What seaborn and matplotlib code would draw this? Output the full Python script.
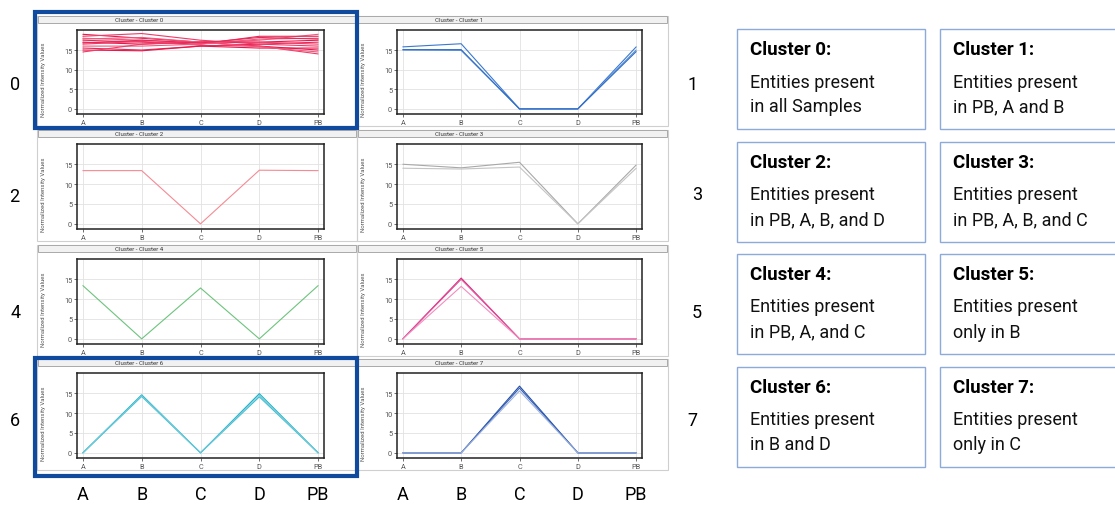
import pandas as pd
import numpy as np
import matplotlib
matplotlib.use('Agg')
import matplotlib.pyplot as plt
import matplotlib.transforms as mtransforms
from matplotlib.patches import Rectangle
import seaborn as sns

samples = ['A', 'B', 'C', 'D', 'PB']

cluster0 = [
    [19.0, 18.0, 17.0, 16.0, 15.0],
    [18.5, 19.2, 17.5, 16.5, 16.0],
    [18.0, 17.5, 16.8, 17.5, 19.0],
    [17.5, 17.0, 16.5, 18.5, 18.5],
    [17.0, 16.5, 17.0, 17.0, 17.5],
    [16.5, 17.2, 16.2, 16.0, 14.0],
    [16.0, 16.0, 16.5, 17.8, 18.0],
    [15.5, 15.0, 16.0, 16.5, 17.0],
    [15.0, 14.8, 16.0, 15.5, 15.5],
    [14.5, 16.5, 17.2, 17.0, 16.5],
    [17.8, 18.2, 17.0, 15.8, 14.5],
    [16.8, 17.5, 16.8, 18.2, 17.8],
]
cluster1 = [
    [15.8, 16.6, 0.0, 0.0, 15.8],
    [15.0, 14.9, 0.0, 0.0, 15.0],
    [15.1, 15.1, 0.0, 0.0, 14.6],
]
cluster2 = [
    [13.4, 13.4, 0.0, 13.5, 13.4],
]
cluster3 = [
    [15.0, 14.1, 15.5, 0.0, 14.8],
    [14.0, 13.8, 14.3, 0.0, 14.0],
]
cluster4 = [
    [13.4, 0.0, 12.8, 0.0, 13.4],
]
cluster5 = [
    [0.0, 15.3, 0.0, 0.0, 0.0],
    [0.0, 15.0, 0.0, 0.0, 0.0],
    [0.0, 13.2, 0.0, 0.0, 0.0],
]
cluster6 = [
    [0.0, 14.6, 0.0, 14.9, 0.0],
    [0.0, 14.2, 0.0, 14.1, 0.0],
    [0.0, 14.4, 0.0, 14.5, 0.0],
]
cluster7 = [
    [0.0, 0.0, 16.8, 0.0, 0.0],
    [0.0, 0.0, 16.3, 0.0, 0.0],
    [0.0, 0.0, 15.6, 0.0, 0.0],
]
clusters = [cluster0, cluster1, cluster2, cluster3, cluster4, cluster5, cluster6, cluster7]

box_titles = ['Cluster 0:', 'Cluster 1:', 'Cluster 2:', 'Cluster 3:',
              'Cluster 4:', 'Cluster 5:', 'Cluster 6:', 'Cluster 7:']
box_texts = ['Entities present\nin all Samples',
             'Entities present\nin PB, A and B',
             'Entities present\nin PB, A, B, and D',
             'Entities present\nin PB, A, B, and C',
             'Entities present\nin PB, A, and C',
             'Entities present\nonly in B',
             'Entities present\nin B and D',
             'Entities present\nonly in C']

# colours per cluster (dark / light shades)
palettes = [
    ['#e8174c', '#ee3c68', '#f0587c', '#e42a58'],
    ['#3a78d0', '#5a92dc', '#2f6cc4'],
    ['#f58a94'],
    ['#a8a8a8', '#c4c4c4'],
    ['#6cc47c'],
    ['#d8287e', '#e0509a', '#f28cc0'],
    ['#16aec6', '#3cbcd0', '#6dcbdb'],
    ['#234ea6', '#3a64b8', '#9db2de'],
]

W, H = 1115, 506
sns.set_theme(style='whitegrid')
narrow = ['Roboto', 'DejaVu Sans']
plt.rcParams['font.family'] = ['Roboto', 'DejaVu Sans']

fig = plt.figure(figsize=(W / 100, H / 100), dpi=100)
fig.patch.set_facecolor('white')


def fig_rect(x0, y0, x1, y1):
    return [x0 / W, 1 - y1 / H, (x1 - x0) / W, (y1 - y0) / H]


ax_x = [(77, 324), (397, 642)]
ax_y = [(31, 115), (145, 230), (260, 345), (374, 459)]
panel_x = [(37, 357), (357, 668)]

axes = []
for i, data in enumerate(clusters):
    row, col = i // 2, i % 2
    x0, x1 = ax_x[col]
    y0, y1 = ax_y[row]

    # panel frame and title strip
    px0, px1 = panel_x[col]
    fig.add_artist(Rectangle((px0 / W, 1 - (y1 + 12) / H), (px1 - px0) / W, (y1 + 12 - (y0 - 14)) / H,
                             transform=fig.transFigure, facecolor='none', edgecolor='#cfcfcf', lw=0.8))
    fig.add_artist(Rectangle(((px0 + 1) / W, 1 - (y0 - 7) / H), (px1 - px0 - 2) / W, 7 / H,
                             transform=fig.transFigure, facecolor='#f1f1f1', edgecolor='#a9a9a9', lw=0.7))
    fig.text((px0 + 78) / W, 1 - (y0 - 10.5) / H, f'Cluster - Cluster {i}', fontsize=4.4,
             color='#333333', va='center', ha='left')

    ax = fig.add_axes(fig_rect(x0, y0, x1, y1))
    rows = []
    for k, line in enumerate(data):
        for s, v in zip(samples, line):
            rows.append({'sample': s, 'value': v, 'entity': f'e{k}'})
    df = pd.DataFrame(rows)
    sns.lineplot(data=df, x='sample', y='value', hue='entity', palette=palettes[i][:len(data)],
                 estimator=None, legend=False, sort=False, linewidth=0.8, ax=ax)

    ax.set_xlim(-0.1, 4.1)
    ax.set_ylim(-1.3, 20.1)
    ax.set_yticks([0, 5, 10, 15])
    ax.set_xticks(range(len(samples)))
    ax.set_xticklabels(samples)
    ax.set_xlabel('')
    ax.set_ylabel('Normalized Intensity Values', fontsize=4.3, color='#555555')
    ax.yaxis.set_label_coords(-31 / (x1 - x0), 0.42)
    ax.tick_params(axis='both', labelsize=5.3, colors='#555555', length=2, width=0.6, pad=1.5)
    ax.tick_params(axis='both', which='both', bottom=True, left=True)
    ax.grid(True, color='#e2e2e2', linewidth=0.6)
    for sp in ax.spines.values():
        sp.set_color('#222222')
        sp.set_linewidth(1.1)
    ax.set_facecolor('white')
    axes.append(ax)

# row numbers
row_labels_left = [('0', 15, 85), ('2', 14, 197), ('4', 16, 313), ('6', 15, 421)]
row_labels_right = [('1', 693, 85), ('3', 697, 195), ('5', 697, 313), ('7', 692, 421)]
for lab, x, y in row_labels_left + row_labels_right:
    fig.text(x / W, 1 - y / H, lab, fontsize=13, family=narrow, ha='center', va='center', color='black')

# sample letters under the bottom panels
for ax in axes[-2:]:
    trans = mtransforms.blended_transform_factory(ax.transData, fig.transFigure)
    for k, s in enumerate(samples):
        ax.text(k, 1 - 495 / H, s, transform=trans, fontsize=13, family=narrow,
                ha='center', va='center', color='black', clip_on=False)

# highlight frames around cluster 0 and cluster 6
for (x0, y0, x1, y1) in [(35, 13, 357, 129), (35, 359, 357, 477)]:
    fig.add_artist(Rectangle((x0 / W, 1 - y1 / H), (x1 - x0) / W, (y1 - y0) / H,
                             transform=fig.transFigure, facecolor='none', edgecolor='#0f4a9e', lw=3.0))

# description boxes
box_x = [(737, 925), (940, 1125)]
box_y = [30, 143, 255, 368]
for i in range(8):
    row, col = i // 2, i % 2
    bx0, bx1 = box_x[col]
    by0 = box_y[row]
    by1 = by0 + 100
    fig.add_artist(Rectangle((bx0 / W, 1 - by1 / H), (bx1 - bx0) / W, (by1 - by0) / H,
                             transform=fig.transFigure, facecolor='white', edgecolor='#8eaad8', lw=1.0))
    fig.text((bx0 + 13) / W, 1 - (by0 + 20) / H, box_titles[i], fontsize=13.5, fontweight='bold',
             family=narrow, ha='left', va='center', color='black')
    fig.text((bx0 + 13) / W, 1 - (by0 + 65) / H, box_texts[i], fontsize=13, family=narrow,
             ha='left', va='center', color='#111111', linespacing=1.5)

fig.savefig('out.png', dpi=100, facecolor='white')
